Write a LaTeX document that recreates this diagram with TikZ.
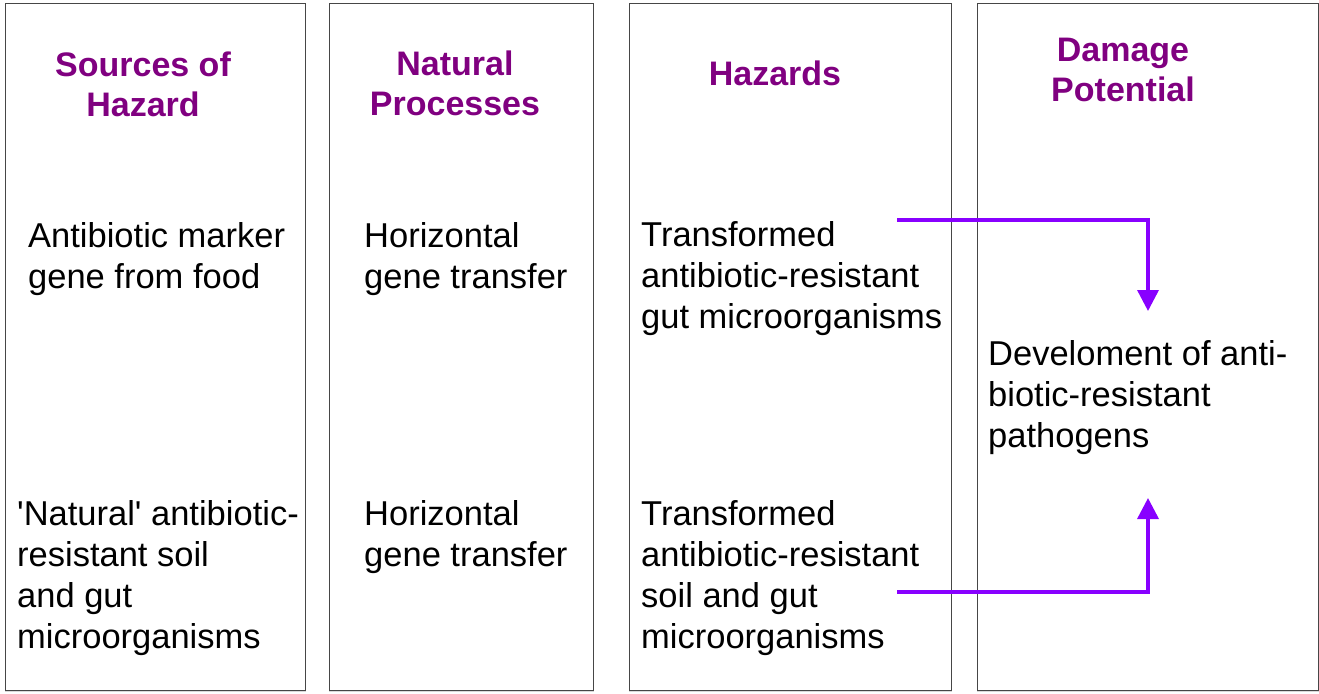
\documentclass[tikz,border=0pt]{standalone}
\usepackage{fontspec}
\setmainfont{Liberation Sans}
\usetikzlibrary{arrows.meta}
\definecolor{headpurple}{RGB}{128,0,128}
\definecolor{flowviolet}{RGB}{136,0,255}
\definecolor{boxgray}{RGB}{70,70,70}
\tikzset{
  column/.style={draw=boxgray, line width=1.3pt, inner sep=0pt, anchor=north west, minimum height=687pt},
  heading/.style={anchor=north, align=center, inner sep=0pt, text=headpurple,
    font=\fontsize{34}{40.5}\selectfont\bfseries},
  entry/.style={anchor=north west, align=left, inner sep=0pt, font=\fontsize{34.5}{41}\selectfont},
  flow/.style={draw=flowviolet, line width=3.5pt, -{Triangle[width=21pt,length=21pt]}}
}
\begin{document}
\begin{tikzpicture}[x=1pt,y=-1pt]
  \useasboundingbox (0,0) rectangle (1319,693);
  % the four columns
  \node[column, minimum width=300pt] (srcbox) at (5,3) {};
  \node[column, minimum width=264pt] (procbox) at (329,3) {};
  \node[column, minimum width=322pt] (hazbox) at (629,3) {};
  \node[column, minimum width=341pt] (dmgbox) at (977,3) {};
  \foreach \b in {srcbox,procbox,hazbox,dmgbox}
    \draw[gray!30, line width=1.3pt] (\b.south west) -- (\b.south east);
  \draw[gray!30, line width=1.3pt] (dmgbox.north east) -- (dmgbox.south east);

  % headings
  \node[heading] (srchead) at (143,51.5) {Sources of\\Hazard};
  \node[heading] (prochead) at (455,50.5) {Natural\\Processes};
  \node[heading] (hazhead) at (775,61) {Hazards};
  \node[heading] (dmghead) at (1123,37.5) {Damage\\Potential};

  % entries
  \node[entry] (src1) at (28,222) {Antibiotic marker\\gene from food};
  \node[entry] (src2) at (17,500) {\textquotesingle Natural\textquotesingle{} antibiotic-\\resistant soil\\and gut\\microorganisms};
  \node[entry] (proc1) at (364,222) {Horizontal\\gene transfer};
  \node[entry] (proc2) at (364,500) {Horizontal\\gene transfer};
  \node[entry] (haz1) at (641,221) {Transformed\\antibiotic-resistant\\gut microorganisms};
  \node[entry] (haz2) at (641,500) {Transformed\\antibiotic-resistant\\soil and gut\\microorganisms};
  \node[entry] (dmg) at (988,340) {Develoment of anti-\\biotic-resistant\\pathogens};

  % arrows into damage potential
  \coordinate (up0) at (897,220);
  \coordinate (up1) at (1148,311);
  \coordinate (lo0) at (897,592);
  \coordinate (lo1) at (1148,498);
  \draw[flow] (up0) -| (up1);
  \draw[flow] (lo0) -| (lo1);
\end{tikzpicture}
\end{document}
